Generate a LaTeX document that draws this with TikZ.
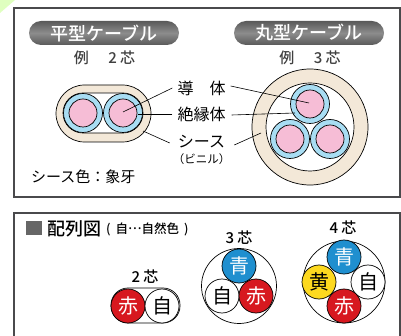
\documentclass[tikz,border=0pt]{standalone}
\usepackage{fontspec}
\setmainfont{Noto Sans CJK JP}
\newfontfamily\jpbold{Noto Sans CJK JP Medium}
\definecolor{framegray}{HTML}{4A4A4C}
\definecolor{ivory}{HTML}{F3E8D8}
\definecolor{insblue}{HTML}{A8DDF3}
\definecolor{corepink}{HTML}{F6BDD6}
\definecolor{corered}{HTML}{D7181F}
\definecolor{coreblue}{HTML}{1F8FCF}
\definecolor{coreyellow}{HTML}{FDD91F}
\definecolor{txtgray}{HTML}{404040}
\begin{document}
\begin{tikzpicture}[x=1pt,y=-1pt,
    frame/.style={draw=framegray,line width=1.1pt},
    pill/.style={rounded corners=12pt,top color=gray!70!black,bottom color=gray!70!black,middle color=gray!90,minimum width=150pt,minimum height=24pt,inner sep=0pt,text=white,font=\jpbold\fontsize{18}{18}\selectfont},
    ins/.style={circle,draw=black,fill=insblue,line width=.7pt,minimum size=39pt,inner sep=0pt},
    core/.style={circle,draw=black,fill=corepink,line width=.7pt,minimum size=28pt,inner sep=0pt},
    sheath/.style={draw=black,fill=ivory,line width=.7pt},
    lead/.style={draw=black,line width=.6pt},
    lbl/.style={text=black,font=\fontsize{16}{16}\selectfont,inner sep=0pt},
    sub/.style={text=txtgray,font=\jpbold\fontsize{15}{15}\selectfont,inner sep=0pt},
    col/.style={circle,draw=black,line width=.7pt,minimum size=34pt,inner sep=0pt,font=\fontsize{20}{20}\selectfont},
    ring/.style={circle,draw=black,line width=.7pt,inner sep=0pt}]
  \useasboundingbox (0,0) rectangle (401,336);
  \fill[green!50!yellow!25] (0,0) -- (15,0) -- (0,13) -- cycle;

  \draw[frame] (14,8) rectangle (400,197);
  \draw[frame] (14,336) -- (14,213) -- (400,213) -- (400,336);

  \node[pill] (flat) at (104,33) {平型ケーブル};
  \node[pill] (round) at (309,33) {丸型ケーブル};
  \node[sub] (ex2) at (104.5,58) {例\hspace{1.3em}2 芯};
  \node[sub] (ex3) at (310,58) {例\hspace{1.3em}3 芯};

  % flat cable
  \draw[sheath,rounded corners=28.5pt] (56,85) rectangle (151,142);
  \draw[fill=white,line width=.7pt,rounded corners=20pt] (63,93) rectangle (143,133);
  \node[ins] (fa) at (83,113) {};
  \node[ins] (fb) at (123,113) {};
  \node[core] (fc) at (83,113) {};
  \node[core] (fd) at (123,113) {};

  % round cable
  \node[ring,fill=ivory,minimum size=116pt] (ro) at (310,127) {};
  \node[ring,fill=white,minimum size=88pt] (ri) at (310,127) {};
  \node[ins] (ra) at (310,104) {};
  \node[ins] (rb) at (290,139) {};
  \node[ins] (rc) at (330,139) {};
  \node[core] (rd) at (310,104) {};
  \node[core] (re) at (290,139) {};
  \node[core] (rf) at (330,139) {};

  \node[lbl] (cond) at (201.5,88) {導\hspace{1em}体};
  \node[lbl] (insu) at (201.5,114) {絶縁体};
  \node[lbl] (shth) at (201.5,142) {シース};
  \node[inner sep=0pt,font=\fontsize{11.5}{11.5}\selectfont] (vin) at (201.5,159) {（ビニル）};
  \node[lbl,anchor=west,font=\fontsize{15}{15}\selectfont] (color) at (31,177) {シース色：象牙};

  \coordinate (c1) at (123,112);
  \coordinate (c2) at (138,114);
  \coordinate (c3) at (143,131);
  \coordinate (c4) at (309,103);
  \coordinate (c5) at (295,113);
  \coordinate (c6) at (261,133);
  \draw[lead] (cond.west) ++(-5,0) -- (c1);
  \draw[lead] (insu.west) ++(-5,0) -- (c2);
  \draw[lead] (shth.west) ++(-8,1) -- (c3);
  \draw[lead] (cond.east) ++(5,-2) -- (c4);
  \draw[lead] (insu.east) ++(6,1) -- (c5);
  \draw[lead] (shth.east) ++(9,3) -- (c6);

  % layout
  \fill[gray!80!black] (26,221) rectangle (42,235);
  \node[lbl,anchor=west,font=\jpbold\fontsize{18}{18}\selectfont] (lay) at (47,229) {配列図};
  \node[lbl,anchor=west,font=\jpbold\fontsize{12.5}{12.5}\selectfont] (note) at (106,229) {(\hspace{.4em}自\raisebox{.3em}{…}自然色\hspace{.4em})};

  \node[sub,text=black] (n2) at (145,277) {2 芯};
  \draw[line width=.7pt,rounded corners=17pt] (111,288) rectangle (180,323);
  \node[col,fill=corered,text=white] (r2) at (128,306) {赤};
  \node[col,fill=white] (w2) at (162,306) {自};

  \node[sub,text=black] (n3) at (239,238) {3 芯};
  \node[ring,minimum size=75pt] (o3) at (239,286) {};
  \node[col,fill=coreblue,text=white] (b3) at (239,266) {青};
  \node[col,fill=white] (w3) at (222,296) {自};
  \node[col,fill=corered,text=white] (r3) at (256,296) {赤};

  \node[sub,text=black] (n4) at (343,228) {4 芯};
  \node[ring,minimum size=82pt] (o4) at (344,282) {};
  \node[col,fill=coreblue,text=white] (b4) at (344,257) {青};
  \node[col,fill=coreyellow] (y4) at (319,282) {黄};
  \node[col,fill=white] (w4) at (368,282) {自};
  \node[col,fill=corered,text=white] (r4) at (344,306) {赤};
\end{tikzpicture}
\end{document}
